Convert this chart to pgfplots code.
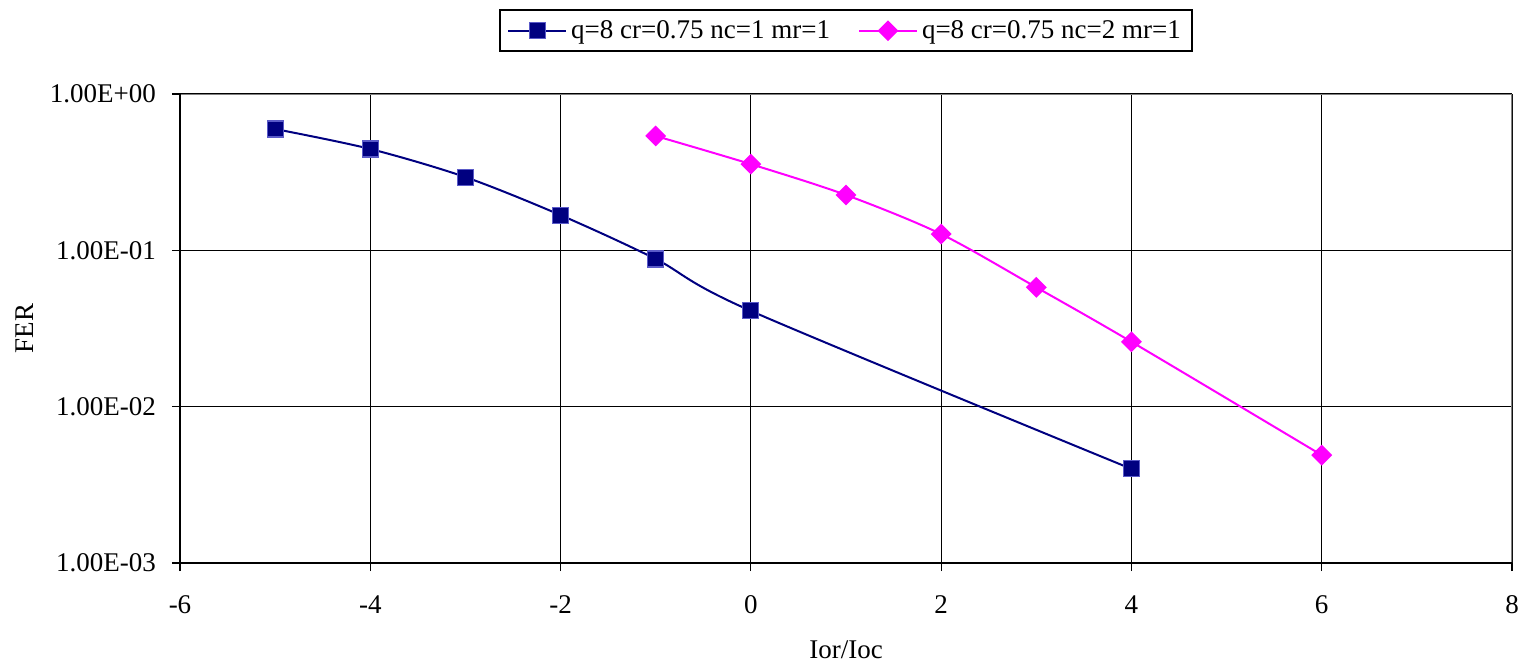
\documentclass[border=0pt]{standalone}
\usepackage{pgfplots}
\pgfplotsset{compat=1.18}
\usepackage{fontspec}
\setmainfont{Liberation Serif}
\definecolor{navyser}{RGB}{0,0,128}
\definecolor{navyedge}{RGB}{90,90,200}
\definecolor{magser}{RGB}{255,0,255}
\begin{document}
\begin{tikzpicture}
\begin{axis}[
  name=main,
  scale only axis,
  width=666pt, height=234.5pt,
  ymode=log,
  xmin=-6, xmax=8, ymin=1e-3, ymax=1,
  xtick={-6,-4,-2,0,2,4,6,8},
  xticklabels={-6,-4,-2,0,2,4,6,8},
  ytick={1e-3,1e-2,1e-1,1},
  yticklabels={1.00E-03,1.00E-02,1.00E-01,1.00E+00},
  minor y tick style={draw=none},
  minor tick length=0pt,
  xtick pos=bottom, ytick pos=left,
  grid=major,
  major grid style={black, line width=0.6pt},
  axis line style={draw=none},
  tick align=outside,
  major tick length=4pt,
  tick style={black, line width=0.6pt},
  tick label style={font=\fontsize{13.5}{16}\selectfont},
  yticklabel style={xshift=-4.5pt},
  xticklabel style={anchor=center, yshift=-17pt},
  xlabel={Ior/Ioc},
  ylabel={FER},
  label style={font=\fontsize{13.5}{16}\selectfont},
  xlabel style={at={(axis description cs:0.5,-0.1855)}, anchor=center},
  ylabel style={at={(axis description cs:-0.1164,0.5)}, anchor=center, rotate=0},
  legend columns=2,
  legend image code/.code={%
    \draw[mark repeat=2, mark phase=2] plot coordinates {(0pt,0pt) (14.5pt,0pt) (29pt,0pt)};},
  legend style={at={(0.5,1)}, anchor=south, yshift=21pt,
    font=\fontsize{13.5}{16}\selectfont, draw=black, line width=0.8pt,
    inner xsep=3.5pt, inner ysep=3pt,
    /tikz/every even column/.append style={column sep=12pt}},
]
\addplot[navyser, line width=1pt, smooth, mark=square*,
  mark size=4pt, mark options={fill=navyser, draw=navyedge, line width=0.6pt}]
  coordinates {
  (-5,0.597) (-4,0.445) (-3,0.294) (-2,0.168) (-1,0.088) (0,0.041) (4,0.0040)
};
\addlegendentry{q=8 cr=0.75 nc=1 mr=1}
\addplot[magser, line width=1pt, smooth, mark=square*,
  mark size=3.2pt, mark options={fill=magser, draw=magser, rotate=45}]
  coordinates {
  (-1,0.539) (0,0.356) (1,0.226) (2,0.127) (3,0.058) (4,0.026) (6,0.0049)
};
\addlegendentry{q=8 cr=0.75 nc=2 mr=1}
\draw[gray, line width=0.9pt] (rel axis cs:0,1) -- (rel axis cs:1,1) -- (rel axis cs:1,0);
\draw[black, line width=0.9pt] (rel axis cs:0,1) -- (rel axis cs:0,0) -- (rel axis cs:1,0);
\end{axis}
\pgfresetboundingbox
\path (main.south west) ++(-90pt,-51.5pt) coordinate (bl);
\path (main.north east) ++(6.5pt,47pt) coordinate (tr);
\path (bl) rectangle (tr);
\end{tikzpicture}
\end{document}
